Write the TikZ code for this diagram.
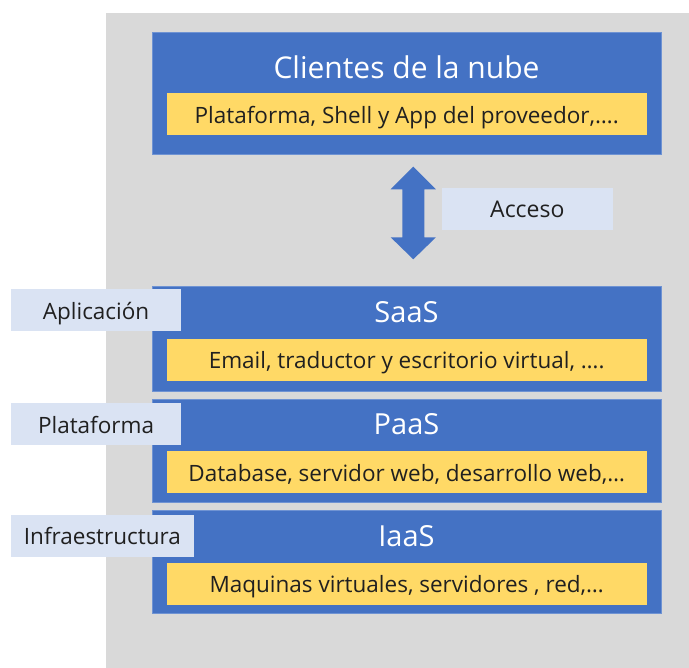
\documentclass[tikz,border=0pt]{standalone}
\usepackage{fontspec}
\setmainfont{Open Sans}
\definecolor{bggray}{HTML}{D9D9D9}
\definecolor{layerblue}{HTML}{4472C4}
\definecolor{layeredge}{HTML}{6F93D3}
\definecolor{itemyellow}{HTML}{FFD966}
\definecolor{tagblue}{HTML}{DAE3F3}
\definecolor{inktext}{HTML}{202020}
\begin{document}
\begin{tikzpicture}[x=1pt,y=-1pt,
  layer/.style={anchor=north west, fill=layerblue, draw=layeredge, line width=0.6pt,
    minimum width=509pt, inner sep=0pt},
  items/.style={anchor=north west, fill=itemyellow, minimum width=479.6pt,
    minimum height=42pt, inner sep=0pt, text=inktext, text height=22.6pt, text depth=5.4pt,
    font=\fontsize{22.5}{26}\selectfont},
  heading/.style={text=white, inner sep=0pt, font=\fontsize{29}{34}\selectfont},
  tag/.style={anchor=north west, fill=tagblue, minimum height=42pt, inner sep=0pt,
    text=inktext, text height=23.5pt, text depth=5.4pt, font=\fontsize{22.5}{26}\selectfont}]
\useasboundingbox (0,0) rectangle (689,668);
% background panel
\fill[bggray] (106,13.3) rectangle (689,668);

% cloud clients
\node[layer, minimum height=122pt] (clients) at (152,32) {};
\node[heading, font=\fontsize{30}{35}\selectfont] (clientsT) at (406.5,67) {Clientes de la nube};
\node[items] (clientsI) at (166.7,93.3) {Plataforma, Shell y App del proveedor,….};

% access arrow
\coordinate (atop) at (413.3,166.7);
\coordinate (abot) at (413.3,259.3);
\fill[layerblue] (atop) -- ++(22.65,22.6) -- ++(-11.65,0) -- ++(0,48) -- ++(11.65,0)
  -- (abot) -- ++(-22.65,-22.0) -- ++(11.65,0) -- ++(0,-48) -- ++(-11.65,0) -- cycle;
\node[tag, minimum width=170.3pt, font=\fontsize{23}{27}\selectfont] (acceso) at (442,187.7) {Acceso};

% service layers
\node[layer, minimum height=105pt] (saas) at (152,286) {};
\node[heading] (saasT) at (406.5,312) {SaaS};
\node[items] (saasI) at (166.7,338.7) {Email, traductor y escritorio virtual, ….};

\node[layer, minimum height=102.4pt] (paas) at (152,399.3) {};
\node[heading] (paasT) at (406.5,424) {PaaS};
\node[items] (paasI) at (166.7,451.3) {Database, servidor web, desarrollo web,…};

\node[layer, minimum height=103.3pt] (iaas) at (152,510) {};
\node[heading] (iaasT) at (406.5,536) {IaaS};
\node[items] (iaasI) at (166.7,562.7) {Maquinas virtuales, servidores , red,…};

% side tags
\node[tag, minimum width=170.3pt] (app) at (10.7,289) {Aplicación};
\node[tag, minimum width=170.3pt] (plat) at (10.7,403.3) {Plataforma};
\node[tag, minimum width=183pt] (infra) at (10.7,514.7) {Infraestructura};
\end{tikzpicture}
\end{document}
